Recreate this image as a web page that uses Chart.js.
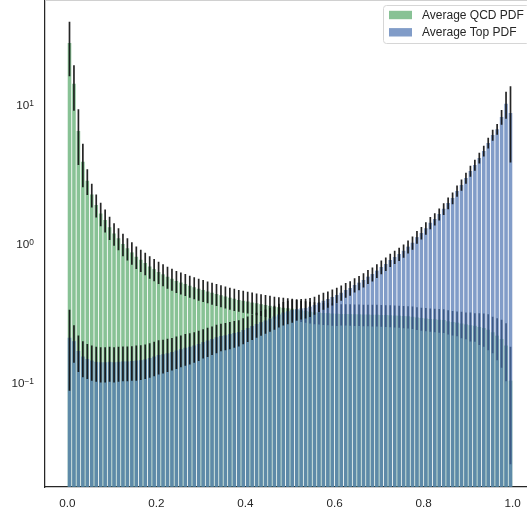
<!DOCTYPE html>
<html>
<head>
<meta charset="utf-8">
<script src="https://cdn.jsdelivr.net/npm/chart.js@4.4.1/dist/chart.umd.min.js"></script>
<style>
  html, body { margin: 0; padding: 0; background: #fff; overflow: hidden; }
  canvas { display: block; }
</style>
</head>
<body>
<canvas id="pdfChart" width="535" height="514"></canvas>
<script>
// ===== DATA =====
// 100 histogram bins on [0, 1]
const nBins = 100;
const binWidth = 0.01;
const binCenters = Array.from({ length: nBins }, (_, i) => (i + 0.5) * binWidth);

const xTicks = [0, 0.2, 0.4, 0.6, 0.8, 1.0];
const xTickLabels = ["0.0", "0.2", "0.4", "0.6", "0.8", "1.0"];
const yTickExponents = [-1, 0, 1];

const seriesNames = ["Average QCD PDF", "Average Top PDF"];

const qcdValues = [
  27.9, 14.2, 6.5, 3.91, 2.85, 2.27, 1.91, 1.66, 1.49, 1.32,
  1.19, 1.10, 1.00, 0.93, 0.87, 0.81, 0.77, 0.73, 0.69, 0.66,
  0.63, 0.605, 0.582, 0.562, 0.542, 0.528, 0.515, 0.501, 0.488, 0.477,
  0.467, 0.456, 0.446, 0.437, 0.428, 0.419, 0.411, 0.403, 0.396, 0.39,
  0.385, 0.379, 0.374, 0.369, 0.364, 0.359, 0.354, 0.351, 0.348, 0.345,
  0.342, 0.337, 0.333, 0.329, 0.326, 0.323, 0.321, 0.319, 0.318, 0.316,
  0.315, 0.314, 0.314, 0.313, 0.312, 0.312, 0.311, 0.311, 0.31, 0.31,
  0.309, 0.308, 0.307, 0.306, 0.305, 0.303, 0.302, 0.3, 0.296, 0.293,
  0.291, 0.289, 0.287, 0.285, 0.284, 0.278, 0.275, 0.272, 0.268, 0.264,
  0.26, 0.258, 0.253, 0.249, 0.242, 0.232, 0.219, 0.207, 0.186, 0.104,
];
const qcdErrors = [
  11.8, 5.1, 2.8, 1.35, 0.6, 0.44, 0.36, 0.32, 0.28, 0.25,
  0.22, 0.2, 0.185, 0.17, 0.16, 0.15, 0.14, 0.135, 0.127, 0.12,
  0.115, 0.109, 0.105, 0.101, 0.098, 0.095, 0.093, 0.09, 0.088, 0.086,
  0.084, 0.082, 0.08, 0.079, 0.077, 0.075, 0.074, 0.073, 0.071, 0.07,
  0.069, 0.068, 0.067, 0.066, 0.066, 0.065, 0.064, 0.063, 0.063, 0.062,
  0.062, 0.058, 0.058, 0.058, 0.058, 0.058, 0.058, 0.058, 0.058, 0.058,
  0.058, 0.055, 0.055, 0.055, 0.055, 0.055, 0.055, 0.055, 0.055, 0.055,
  0.055, 0.055, 0.055, 0.055, 0.055, 0.055, 0.055, 0.055, 0.055, 0.055,
  0.055, 0.055, 0.055, 0.055, 0.055, 0.055, 0.055, 0.055, 0.058, 0.058,
  0.061, 0.06, 0.065, 0.067, 0.07, 0.068, 0.073, 0.078, 0.083, 0.078,
];

const topValues = [
  0.212, 0.200, 0.170, 0.155, 0.149, 0.145, 0.142, 0.141, 0.141, 0.142,
  0.141, 0.142, 0.143, 0.143, 0.144, 0.145, 0.146, 0.148, 0.151, 0.155,
  0.159, 0.161, 0.164, 0.167, 0.171, 0.175, 0.179, 0.182, 0.186, 0.191,
  0.197, 0.202, 0.207, 0.213, 0.218, 0.221, 0.225, 0.229, 0.233, 0.241,
  0.249, 0.257, 0.266, 0.274, 0.282, 0.291, 0.301, 0.311, 0.321, 0.328,
  0.335, 0.341, 0.344, 0.347, 0.354, 0.364, 0.378, 0.391, 0.402, 0.416,
  0.43, 0.446, 0.467, 0.482, 0.507, 0.527, 0.551, 0.582, 0.608, 0.643,
  0.684, 0.718, 0.767, 0.806, 0.847, 0.895, 0.957, 1.02, 1.12, 1.20,
  1.30, 1.42, 1.51, 1.64, 1.79, 1.97, 2.14, 2.41, 2.66, 2.98,
  3.35, 3.70, 4.16, 4.67, 5.33, 6.08, 6.7, 8.2, 10.2, 8.76,
];
const topErrors = [
  0.124, 0.06, 0.05, 0.045, 0.042, 0.041, 0.04, 0.04, 0.04, 0.04,
  0.04, 0.04, 0.04, 0.04, 0.04, 0.041, 0.041, 0.041, 0.042, 0.043,
  0.044, 0.044, 0.044, 0.044, 0.045, 0.045, 0.046, 0.046, 0.046, 0.047,
  0.047, 0.048, 0.048, 0.049, 0.049, 0.049, 0.05, 0.05, 0.05, 0.051,
  0.052, 0.053, 0.054, 0.055, 0.056, 0.057, 0.059, 0.06, 0.062, 0.063,
  0.064, 0.06, 0.058, 0.056, 0.055, 0.054, 0.054, 0.054, 0.054, 0.055,
  0.055, 0.056, 0.057, 0.058, 0.06, 0.062, 0.064, 0.067, 0.07, 0.073,
  0.077, 0.08, 0.085, 0.089, 0.093, 0.098, 0.104, 0.11, 0.118, 0.125,
  0.134, 0.143, 0.152, 0.163, 0.175, 0.19, 0.205, 0.225, 0.245, 0.27,
  0.3, 0.33, 0.37, 0.41, 0.47, 0.54, 0.6, 1.0, 2.25, 4.9,
];

// ===== STYLE =====
const FONT = "'Liberation Sans', Arial, sans-serif";
const TEXT_COLOR = "#262626";
const qcdColor = "rgba(85, 168, 104, 0.7)";
const topColor = "rgba(76, 114, 176, 0.7)";

function toPoints(values) {
  return values.map((v, i) => ({ x: binCenters[i], y: v }));
}

// error bars drawn right after their own dataset, so the Top bars cover the QCD ones
const errorBarsPlugin = {
  id: "errorBars",
  afterDatasetDraw(chart, args) {
    const ds = chart.data.datasets[args.index];
    if (!ds.errors) return;
    const yScale = chart.scales.y;
    const area = chart.chartArea;
    const ctx = chart.ctx;
    ctx.save();
    ctx.beginPath();
    ctx.rect(area.left, area.top, area.right - area.left, area.bottom - area.top);
    ctx.clip();
    ctx.strokeStyle = "rgba(20, 20, 20, 0.92)";
    ctx.lineWidth = 1.7;
    ctx.beginPath();
    args.meta.data.forEach((bar, i) => {
      const v = ds.data[i].y;
      const e = ds.errors[i];
      const lo = Math.max(v - e, yScale.min);
      ctx.moveTo(bar.x, yScale.getPixelForValue(v + e));
      ctx.lineTo(bar.x, yScale.getPixelForValue(lo));
    });
    ctx.stroke();
    ctx.restore();
  },
};

// y tick labels as 10 with a raised exponent, legend box, faint top spine
const decorPlugin = {
  id: "decor",
  afterDraw(chart) {
    const ctx = chart.ctx;
    const yScale = chart.scales.y;
    const area = chart.chartArea;

    ctx.save();
    ctx.strokeStyle = "#d0d0d0";
    ctx.lineWidth = 1;
    ctx.beginPath();
    ctx.moveTo(area.left, 0.5);
    ctx.lineTo(area.right, 0.5);
    ctx.stroke();

    ctx.fillStyle = TEXT_COLOR;
    ctx.textBaseline = "alphabetic";
    yTickExponents.forEach((p) => {
      const py = yScale.getPixelForValue(Math.pow(10, p));
      const expText = p < 0 ? "\u2212" + Math.abs(p) : String(p);
      ctx.font = `8.4px ${FONT}`;
      ctx.textAlign = "right";
      const expWidth = ctx.measureText(expText).width;
      ctx.fillText(expText, 34, py + 1.2);
      ctx.font = `11.7px ${FONT}`;
      ctx.fillText("10", 34 - expWidth, py + 4.3);
    });

    // legend
    const boxX = 383.5, boxY = 5.5, boxW = 146, boxH = 38, r = 3;
    ctx.beginPath();
    ctx.moveTo(boxX + r, boxY);
    ctx.lineTo(boxX + boxW - r, boxY);
    ctx.arcTo(boxX + boxW, boxY, boxX + boxW, boxY + r, r);
    ctx.lineTo(boxX + boxW, boxY + boxH - r);
    ctx.arcTo(boxX + boxW, boxY + boxH, boxX + boxW - r, boxY + boxH, r);
    ctx.lineTo(boxX + r, boxY + boxH);
    ctx.arcTo(boxX, boxY + boxH, boxX, boxY + boxH - r, r);
    ctx.lineTo(boxX, boxY + r);
    ctx.arcTo(boxX, boxY, boxX + r, boxY, r);
    ctx.closePath();
    ctx.fillStyle = "rgba(255, 255, 255, 0.85)";
    ctx.fill();
    ctx.strokeStyle = "#d6d6d6";
    ctx.stroke();

    const swatches = [qcdColor, topColor];
    ctx.font = `12px ${FONT}`;
    ctx.textAlign = "left";
    ctx.textBaseline = "middle";
    seriesNames.forEach((name, i) => {
      const cy = 15 + i * 17.3;
      ctx.fillStyle = swatches[i];
      ctx.fillRect(389, cy - 4.2, 23, 8.4);
      ctx.fillStyle = TEXT_COLOR;
      ctx.fillText(name, 422, cy + 0.5);
    });
    ctx.restore();
  },
};

// ===== CHART =====
const ctx = document.getElementById("pdfChart");

new Chart(ctx, {
  type: "bar",
  data: {
    datasets: [
      {
        label: seriesNames[0],
        data: toPoints(qcdValues),
        errors: qcdErrors,
        backgroundColor: qcdColor,
        borderWidth: 0,
        order: 2,
      },
      {
        label: seriesNames[1],
        data: toPoints(topValues),
        errors: topErrors,
        backgroundColor: topColor,
        borderWidth: 0,
        order: 1,
      },
    ],
  },
  options: {
    responsive: false,
    animation: false,
    events: [],
    grouped: false,
    barPercentage: 0.8,
    categoryPercentage: 1.0,
    layout: { padding: 0 },
    plugins: {
      legend: { display: false },
      tooltip: { enabled: false },
    },
    scales: {
      x: {
        type: "linear",
        offset: false,
        min: -0.05,
        max: 1.05,
        grid: { display: false, drawTicks: false },
        border: { display: true, color: TEXT_COLOR, width: 1.25 },
        afterBuildTicks: (scale) => {
          scale.ticks = xTicks.map((v) => ({ value: v }));
        },
        afterFit: (scale) => {
          scale.height = 27;
        },
        ticks: {
          autoSkip: false,
          maxRotation: 0,
          padding: 10,
          color: TEXT_COLOR,
          font: { family: FONT, size: 11.7 },
          callback: (value) => xTickLabels[xTicks.indexOf(value)],
        },
      },
      y: {
        type: "logarithmic",
        min: 0.01786,
        max: 56.9,
        grid: { display: false, drawTicks: false },
        border: { display: true, color: TEXT_COLOR, width: 1.25 },
        afterBuildTicks: (scale) => {
          scale.ticks = yTickExponents.map((p) => ({ value: Math.pow(10, p) }));
        },
        afterFit: (scale) => {
          scale.width = 45;
        },
        ticks: { display: false },
      },
    },
  },
  plugins: [errorBarsPlugin, decorPlugin],
});
</script>
</body>
</html>
